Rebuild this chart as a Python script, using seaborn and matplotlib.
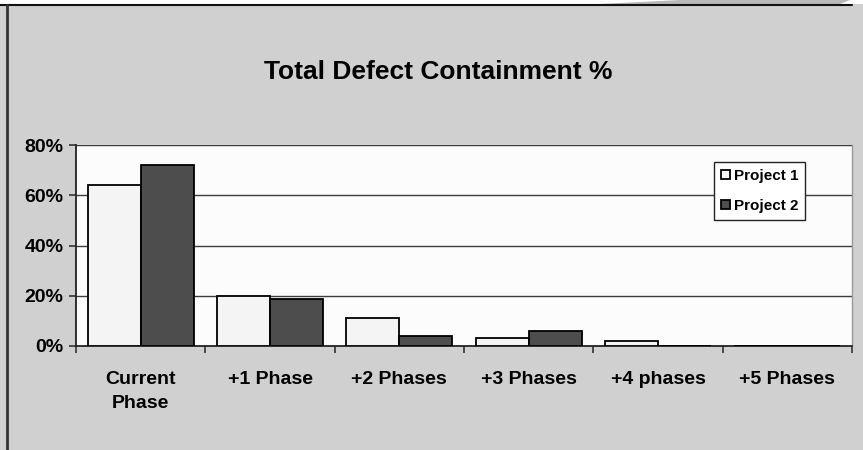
import numpy as np
import pandas as pd
import seaborn as sns
import matplotlib
matplotlib.use("Agg")
import matplotlib.pyplot as plt
from matplotlib.patches import Rectangle, Polygon
from matplotlib.lines import Line2D

categories = ["Current\nPhase", "+1 Phase", "+2 Phases", "+3 Phases", "+4 phases", "+5 Phases"]
series = ["Project 1", "Project 2"]
project1 = [64, 20, 11, 3.3, 2, 0]
project2 = [72, 18.7, 4, 6, 0, 0]
y_ticks = [0, 20, 40, 60, 80]
y_tick_labels = ["0%", "20%", "40%", "60%", "80%"]
title = "Total Defect Containment %"

df = pd.DataFrame({
    "Phase": categories * 2,
    "Series": [series[0]] * len(categories) + [series[1]] * len(categories),
    "Value": project1 + project2,
})

sns.set_theme(style="white")
plt.rcParams["font.family"] = ["Liberation Sans", "DejaVu Sans"]
plt.rcParams["font.weight"] = "bold"
plt.rcParams["text.color"] = "black"
plt.rcParams["xtick.color"] = "black"
plt.rcParams["ytick.color"] = "black"

BG = "#d0d0d0"
fig = plt.figure(figsize=(8.63, 4.5), dpi=100, facecolor=BG)
W, H = 863, 450

# Frame decorations (cropped chart border)
fig.patches.append(Rectangle((0, 1 - 4 / H), 1, 4 / H, transform=fig.transFigure,
                             facecolor="white", edgecolor="none", zorder=0))
fig.patches.append(Polygon([(680 / W, 1), (850 / W, 1), (840 / W, 1 - 4 / H), (600 / W, 1 - 4 / H)],
                           closed=True, transform=fig.transFigure,
                           facecolor="#b8b8b8", edgecolor="none", zorder=0))
fig.lines.append(Line2D([0, 852 / W], [1 - 4.5 / H, 1 - 4.5 / H], transform=fig.transFigure,
                        color="#111111", lw=1.5))
fig.lines.append(Line2D([7 / W, 7 / W], [0, 1 - 4.5 / H], transform=fig.transFigure,
                        color="#333333", lw=2.0))

ax = fig.add_axes([76 / W, 1 - 346 / H, (852 - 76) / W, (346 - 145) / H])
ax.set_facecolor("#fcfcfc")

sns.barplot(data=df, x="Phase", y="Value", hue="Series", order=categories,
            hue_order=series, palette=["#f4f4f4", "#4d4d4d"], width=0.82,
            edgecolor="black", linewidth=1.3, ax=ax, zorder=3, legend=True)

ax.set_ylim(0, 80)
ax.set_xlim(-0.5, len(categories) - 0.5)
ax.set_yticks(y_ticks)
ax.set_yticklabels(y_tick_labels, fontsize=14, fontweight="bold")
for y in y_ticks[1:]:
    ax.axhline(y, color="#3c3c3c", lw=1.0, zorder=1)

ax.set_xticks(range(len(categories)))
ax.set_xticklabels(categories, fontsize=14, fontweight="bold", linespacing=1.55)
ax.tick_params(axis="x", which="major", length=0, pad=18)
ax.set_xticks(np.arange(-0.5, len(categories)), minor=True)
ax.tick_params(axis="x", which="minor", length=5, width=1.2, color="#333333", direction="out", bottom=True)
ax.tick_params(axis="y", length=5, width=1.2, color="#333333", labelcolor="black",
               direction="out", left=True, pad=4)
ax.set_xlabel("")
ax.set_ylabel("")

for s in ["left", "bottom"]:
    ax.spines[s].set_visible(True)
    ax.spines[s].set_color("#222222")
    ax.spines[s].set_linewidth(1.3)
ax.spines["top"].set_visible(False)
ax.spines["right"].set_color("#9a9a9a")
ax.spines["right"].set_linewidth(1.0)

leg = ax.legend(loc="upper left", bbox_to_anchor=((714 - 76) / (852 - 76), (346 - 162) / (346 - 145)),
                frameon=True, fancybox=False, edgecolor="#222222", facecolor="white", framealpha=1,
                prop={"weight": "bold", "size": 11}, handlelength=0.6, handleheight=0.6,
                handletextpad=0.25, labelspacing=1.05, borderpad=0.45, borderaxespad=0)
leg.get_frame().set_linewidth(1.0)
leg.set_zorder(5)
for t in leg.get_texts():
    t.set_color("black")

fig.text(438 / W, 1 - 79 / H, title, ha="center", va="baseline", fontsize=19, fontweight="bold",
         color="black")

fig.savefig("out.png", dpi=100, facecolor=BG)
